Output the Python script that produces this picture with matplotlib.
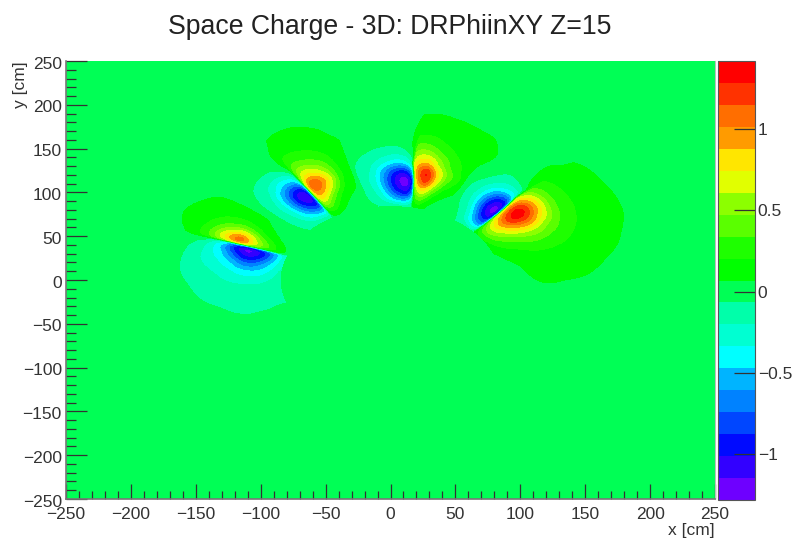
import numpy as np
import matplotlib
matplotlib.use('Agg')
import matplotlib.pyplot as plt
from matplotlib.transforms import ScaledTranslation

plt.rcParams['font.family'] = ['Liberation Sans', 'DejaVu Sans']

# field on a polar grid, one table per charge lobe
# rows go with radius, columns go with the lobe's phi list
radius = [85, 92, 100, 108, 116, 125, 135, 150, 165, 180, 195, 210]
# the two right hand dividers lean away from the radial direction (degrees)
lean = [0, 0.4, 0.9, 1.5, 2, 2.7, 3.5, 3.5, 3.5, 3.5, 3.5, 3.5]

phi_a = [-10, 0, 10, 18, 25, 30, 34, 37, 40, 41, 43, 46, 50, 54, 59]
lobe_a = [
    [0, 0, 0.0, 0.03, 0.1, 0.15, 0.18, 0.18, 0.1, -0.1, -0.15, -0.15, -0.1, -0.07, 0],
    [0, 0, 0.03, 0.1, 0.22, 0.35, 0.45, 0.45, 0.25, -0.45, -0.6, -0.55, -0.3, -0.1, 0],
    [0, 0.03, 0.07, 0.15, 0.32, 0.52, 0.7, 0.72, 0.5, -0.8, -0.95, -0.85, -0.45, -0.15, -0.03],
    [0, 0.07, 0.1, 0.2, 0.42, 0.72, 0.98, 1.0, 0.7, -1.05, -1.2, -1.1, -0.65, -0.22, -0.05],
    [0.03, 0.09, 0.13, 0.25, 0.52, 0.95, 1.3, 1.25, 0.85, -1.05, -1.25, -1.15, -0.7, -0.25, -0.06],
    [0.04, 0.09, 0.14, 0.27, 0.6, 1.1, 1.42, 1.38, 0.95, -0.85, -1.0, -0.9, -0.5, -0.2, -0.05],
    [0.03, 0.09, 0.15, 0.27, 0.52, 0.95, 1.2, 1.1, 0.75, -0.3, -0.45, -0.4, -0.25, -0.1, 0.03],
    [0.02, 0.08, 0.13, 0.2, 0.3, 0.36, 0.42, 0.42, 0.36, 0.15, 0.05, -0.05, -0.07, 0.03, 0.08],
    [0, 0.05, 0.1, 0.14, 0.18, 0.2, 0.2, 0.2, 0.18, 0.12, 0.08, 0.03, 0, 0.05, 0.1],
    [0, 0, 0.08, 0.11, 0.13, 0.14, 0.14, 0.13, 0.12, 0.09, 0.08, 0.03, 0, 0, 0.07],
    [0, 0, 0, 0.07, 0.09, 0.09, 0.09, 0.09, 0.07, 0.04, 0.02, 0, 0, 0, 0],
    [0, 0, 0, 0, 0, 0, 0, 0, 0, 0, 0, 0, 0, 0, 0],
]

phi_b = [62, 67, 71, 74, 76, 78.5, 79.5, 82, 85, 89, 94, 100]
lobe_b = [
    [0, 0, 0.03, 0.08, 0.1, 0.05, -0.1, -0.12, -0.12, -0.1, -0.08, -0.03],
    [0, 0, 0.07, 0.2, 0.3, 0.2, -0.35, -0.55, -0.6, -0.45, -0.2, -0.06],
    [0, 0.07, 0.2, 0.45, 0.6, 0.4, -0.75, -1.0, -0.95, -0.7, -0.25, -0.07],
    [0.07, 0.14, 0.45, 0.85, 0.9, 0.6, -1.0, -1.22, -1.15, -0.82, -0.3, -0.07],
    [0.1, 0.3, 0.75, 1.25, 1.2, 0.85, -1.05, -1.27, -1.2, -0.82, -0.3, -0.07],
    [0.2, 0.45, 0.9, 1.4, 1.25, 0.9, -0.7, -1.0, -0.95, -0.65, -0.2, -0.06],
    [0.18, 0.35, 0.65, 0.95, 0.9, 0.75, -0.25, -0.4, -0.42, -0.3, -0.14, -0.04],
    [0.12, 0.2, 0.3, 0.42, 0.48, 0.47, 0.1, -0.03, -0.08, -0.07, -0.04, 0],
    [0.11, 0.13, 0.16, 0.2, 0.21, 0.21, 0.1, 0, 0, 0, 0, 0],
    [0.085, 0.1, 0.11, 0.12, 0.12, 0.12, 0.07, 0, 0, 0, 0, 0],
    [0, 0.04, 0.05, 0.06, 0.06, 0.05, 0.02, 0, 0, 0, 0, 0],
    [0, 0, 0, 0, 0, 0, 0, 0, 0, 0, 0, 0],
]

phi_c = [104, 108, 112, 116, 119, 121, 122, 124, 127, 131, 135, 140]
lobe_c = [
    [0, 0, 0, 0.03, 0.07, 0.05, -0.08, -0.1, -0.1, -0.09, -0.08, -0.05],
    [0, 0, 0.07, 0.2, 0.25, 0.15, -0.35, -0.45, -0.4, -0.3, -0.15, -0.06],
    [0, 0.07, 0.15, 0.35, 0.55, 0.4, -0.75, -0.85, -0.75, -0.5, -0.22, -0.07],
    [0.07, 0.12, 0.27, 0.62, 0.85, 0.6, -0.9, -1.1, -1.0, -0.65, -0.25, -0.08],
    [0.09, 0.17, 0.55, 0.95, 1.05, 0.8, -1.0, -1.22, -1.15, -0.7, -0.28, -0.08],
    [0.1, 0.22, 0.72, 1.15, 1.2, 0.85, -0.7, -1.0, -0.95, -0.6, -0.22, -0.07],
    [0.1, 0.2, 0.55, 0.8, 0.8, 0.55, -0.3, -0.5, -0.55, -0.35, -0.14, -0.05],
    [0.09, 0.17, 0.28, 0.35, 0.38, 0.32, 0.12, -0.02, -0.1, -0.08, -0.06, -0.02],
    [0.08, 0.11, 0.15, 0.18, 0.18, 0.17, 0.13, 0.05, 0, 0, 0, 0],
    [0, 0.08, 0.1, 0.11, 0.11, 0.09, 0.06, 0, 0, 0, 0, 0],
    [0, 0, 0.05, 0.05, 0.04, 0.03, 0, 0, 0, 0, 0, 0],
    [0, 0, 0, 0, 0, 0, 0, 0, 0, 0, 0, 0],
]

phi_d = [144, 148, 152, 155, 158, 160, 161, 163, 166, 170, 175, 182, 190, 198, 206]
lobe_d = [
    [0, 0, 0, 0.02, 0.03, 0.02, -0.2, -0.25, -0.25, -0.2, -0.15, -0.12, -0.08, -0.07, -0.03],
    [0, 0, 0.03, 0.09, 0.15, 0.12, -0.5, -0.55, -0.5, -0.4, -0.3, -0.15, -0.09, -0.07, -0.03],
    [0, 0.03, 0.1, 0.2, 0.32, 0.25, -0.8, -0.9, -0.85, -0.6, -0.42, -0.2, -0.11, -0.08, -0.03],
    [0.03, 0.08, 0.17, 0.35, 0.55, 0.4, -1.0, -1.15, -1.05, -0.75, -0.45, -0.2, -0.12, -0.08, -0.02],
    [0.08, 0.11, 0.3, 0.6, 0.85, 0.65, -1.05, -1.25, -1.1, -0.75, -0.42, -0.19, -0.12, -0.08, -0.03],
    [0.1, 0.15, 0.4, 0.8, 1.25, 0.9, -0.85, -1.0, -0.8, -0.5, -0.32, -0.18, -0.11, -0.07, 0],
    [0.1, 0.17, 0.35, 0.6, 0.9, 0.7, -0.4, -0.55, -0.45, -0.35, -0.23, -0.14, -0.09, -0.04, 0],
    [0.09, 0.13, 0.2, 0.24, 0.3, 0.28, 0.05, -0.12, -0.18, -0.2, -0.14, -0.09, -0.06, 0, 0],
    [0.07, 0.09, 0.11, 0.11, 0.1, 0.08, 0.05, 0, -0.03, -0.04, -0.06, -0.03, 0, 0, 0],
    [0, 0.04, 0.06, 0.06, 0.04, 0, 0, 0, 0, 0, 0, 0, 0, 0, 0],
    [0, 0, 0, 0, 0, 0, 0, 0, 0, 0, 0, 0, 0, 0, 0],
    [0, 0, 0, 0, 0, 0, 0, 0, 0, 0, 0, 0, 0, 0, 0],
]

# palette bands of the z scale, bottom to top
band_edges = [-1.281, -1.146, -1.011, -0.876, -0.741, -0.606, -0.471, -0.336, -0.201, -0.066,
              0.069, 0.204, 0.339, 0.474, 0.609, 0.744, 0.879, 1.014, 1.149, 1.284, 1.419]
band_colors = ['#6e00ff', '#3200ff', '#000aff', '#0046ff', '#0082ff', '#00b4ff', '#00ffff',
               '#00ffd2', '#00ffaa', '#00ff55', '#00ff00', '#1eff00', '#5aff00', '#8cff00',
               '#e1ff00', '#ffe600', '#ff9b00', '#ff6e00', '#ff3200', '#ff0000']

xy_ticks = [-250, -200, -150, -100, -50, 0, 50, 100, 150, 200, 250]
z_ticks = [-1, -0.5, 0, 0.5, 1]
z_labels = ['\u22121', '\u22120.5', '0', '0.5', '1']


def refine(table, n=5):
    # finer mesh for the contour drawing, linear between the read values
    a = np.asarray(table, dtype=float)
    for axis in (0, 1):
        old = np.arange(a.shape[axis])
        new = np.linspace(0, a.shape[axis] - 1, (a.shape[axis] - 1) * n + 1)
        a = np.apply_along_axis(lambda v: np.interp(new, old, v), axis, a)
    return a


def soften(a, half=3):
    # rounds off the corners a coarse mesh leaves in the contours
    kernel = np.r_[np.arange(1, half + 2), np.arange(half, 0, -1)].astype(float)
    kernel /= kernel.sum()
    for axis in (0, 1):
        a = np.apply_along_axis(
            lambda v: np.convolve(np.pad(v, half, mode='edge'), kernel, mode='valid'), axis, a)
    return a


phi = np.array(phi_a + phi_b + phi_c + phi_d, dtype=float)
z = np.hstack([lobe_a, lobe_b, lobe_c, lobe_d])
pp, rr = np.meshgrid(phi, radius)
pp[:, :len(phi_a) + len(phi_b)] += np.array(lean)[:, None]

pp = np.radians(refine(pp))
rr = refine(rr)
z = soften(refine(z))

W, H = 793, 540
fig = plt.figure(figsize=(W / 100, H / 100), dpi=100)
ax = fig.add_axes([66 / W, (H - 499) / H, 649 / W, 438 / H])
cax = fig.add_axes([718 / W, (H - 500) / H, 37 / W, 439 / H])

ax.set_facecolor(band_colors[9])
cs = ax.contourf(rr * np.cos(pp), rr * np.sin(pp), z, levels=band_edges, colors=band_colors)
ax.set_xlim(-250, 250)
ax.set_ylim(-250, 250)
ax.set_xticks(xy_ticks)
ax.set_yticks(xy_ticks)
ax.set_xticks(np.arange(-250, 251, 10), minor=True)
ax.set_yticks(np.arange(-250, 251, 10), minor=True)
ax.tick_params(axis='x', which='major', direction='in', length=11, width=0.9, color='#333333',
               labelsize=12.5, labelcolor='#333333', pad=6)
ax.tick_params(axis='x', which='minor', direction='in', length=6, width=0.9, color='#333333')
ax.tick_params(axis='y', which='major', direction='in', length=15, width=0.9, color='#333333',
               labelsize=12.5, labelcolor='#333333', pad=3)
ax.tick_params(axis='y', which='minor', direction='in', length=7, width=0.9, color='#333333')
for s in ['left', 'bottom']:
    ax.spines[s].set_color('#777777')
    ax.spines[s].set_linewidth(1.2)
ax.spines['top'].set_visible(False)
ax.spines['right'].set_color('#bbbbbb')

# y labels sit a little under their ticks
shift = ScaledTranslation(0, -1.2 / 72, fig.dpi_scale_trans)
for lab in ax.get_yticklabels():
    lab.set_transform(lab.get_transform() + shift)

cb = fig.colorbar(cs, cax=cax)
cb.set_ticks(z_ticks)
cb.set_ticklabels(z_labels)
cb.ax.minorticks_off()
cb.ax.tick_params(direction='in', length=15, width=0.9, color='#333333', labelsize=12.5,
                  labelcolor='#333333', pad=2)
cb.outline.set_edgecolor('#555555')
cb.outline.set_linewidth(0.8)

fig.text(390 / W, 1 - 27 / H, 'Space Charge - 3D: DRPhiinXY Z=15', ha='center', va='center',
         fontsize=19.2, color='#222222')
fig.text(715 / W, 1 - 531 / H, 'x [cm]', ha='right', va='center', fontsize=12.5, color='#333333')
fig.text(20 / W, 1 - 61 / H, 'y [cm]', ha='center', va='top', rotation=90, fontsize=12.5,
         color='#333333')

fig.savefig('out.png', dpi=100)
